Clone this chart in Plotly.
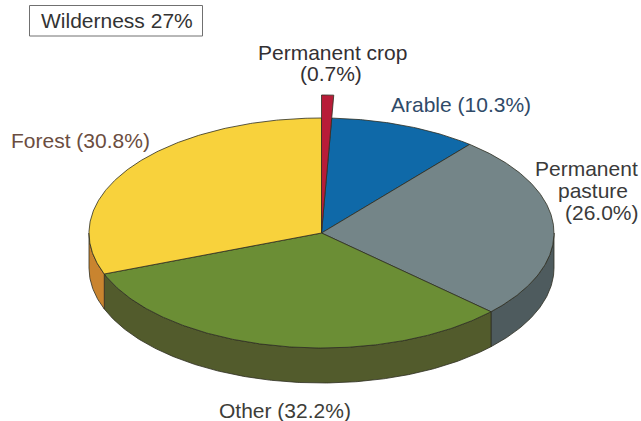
import numpy as np
import plotly.graph_objects as go

categories = ["Permanent crop", "Arable", "Permanent pasture", "Other", "Forest"]
shares = [0.7, 10.3, 26.0, 32.2, 30.8]
top_colors = ["#b81c38", "#0f69a8", "#748588", "#6b8e35", "#f8d23c"]
side_colors = ["#8f1a30", "#0b4a78", "#4e5b5e", "#525b2c", "#c9842f"]
label_texts = ["Permanent crop", "(0.7%)", "Arable (10.3%)", "Permanent", "pasture", "(26.0%)",
               "Other (32.2%)", "Forest (30.8%)"]
label_colors = ["#333033", "#333033", "#2f4a68", "#3a3a3a", "#3a3a3a", "#3a3a3a", "#3d3d38", "#6b4d40"]
label_pos = [(332, 52), (331, 73), (461, 104), (586, 168), (593, 190), (602, 212), (285, 410), (80, 140)]
box_text = "Wilderness 27%"

CX, CY, RX, RY, DEPTH, RED_SCALE = 321.5, 233, 232.5, 115, 35, 1.2
FONT = "Liberation Sans"


def arc(a0, a1, cy=CY, cx=CX, scale=1.0):
    t = np.radians(np.linspace(a0, a1, max(int(abs(a1 - a0)) * 2, 6)))
    return cx + scale * RX * np.sin(t), cy - scale * RY * np.cos(t)


edges = np.concatenate([[0], np.cumsum(shares) / sum(shares) * 360])
fig = go.Figure()


def poly(x, y, color):
    fig.add_trace(go.Scatter(x=x, y=y, mode="lines", fill="toself", fillcolor=color,
                             line=dict(color="#2e2e22", width=0.8), hoverinfo="skip",
                             showlegend=False))


# side walls of the visible front half
for i in range(len(shares)):
    a0, a1 = max(edges[i], 90), min(edges[i + 1], 270)
    if a1 > a0:
        xt, yt = arc(a0, a1)
        xb, yb = arc(a1, a0, CY + DEPTH)
        poly(np.r_[xt, xb, xt[0]], np.r_[yt, yb, yt[0]], side_colors[i])

# top faces, the smallest wedge stands taller and is drawn last
for i in [1, 2, 3, 4, 0]:
    scale = RED_SCALE if i == 0 else 1.0
    xa, ya = arc(edges[i], edges[i + 1], scale=scale)
    poly(np.r_[CX, xa, CX], np.r_[CY, ya, CY], top_colors[i])

for text, color, (x, y) in zip(label_texts, label_colors, label_pos):
    fig.add_annotation(x=x, y=y, text=text, showarrow=False, xref="x", yref="y",
                       font=dict(family=FONT, size=21, color=color), align="center")

fig.add_shape(type="rect", x0=29.5, x1=202.5, y0=5.5, y1=36, xref="x", yref="y",
              line=dict(color="#707070", width=1), fillcolor="white")
fig.add_annotation(x=117, y=20.5, text=box_text, showarrow=False, xref="x", yref="y",
                   font=dict(family=FONT, size=21, color="#333333"))

fig.update_layout(width=641, height=421, margin=dict(l=0, r=0, t=0, b=0),
                  paper_bgcolor="white", plot_bgcolor="white", showlegend=False,
                  xaxis=dict(range=[0, 641], visible=False, fixedrange=True),
                  yaxis=dict(range=[421, 0], visible=False, fixedrange=True))
fig.write_html("out.html", config={"displayModeBar": False},
               post_script="document.body.style.margin='0';document.documentElement.style.overflow='hidden';")
